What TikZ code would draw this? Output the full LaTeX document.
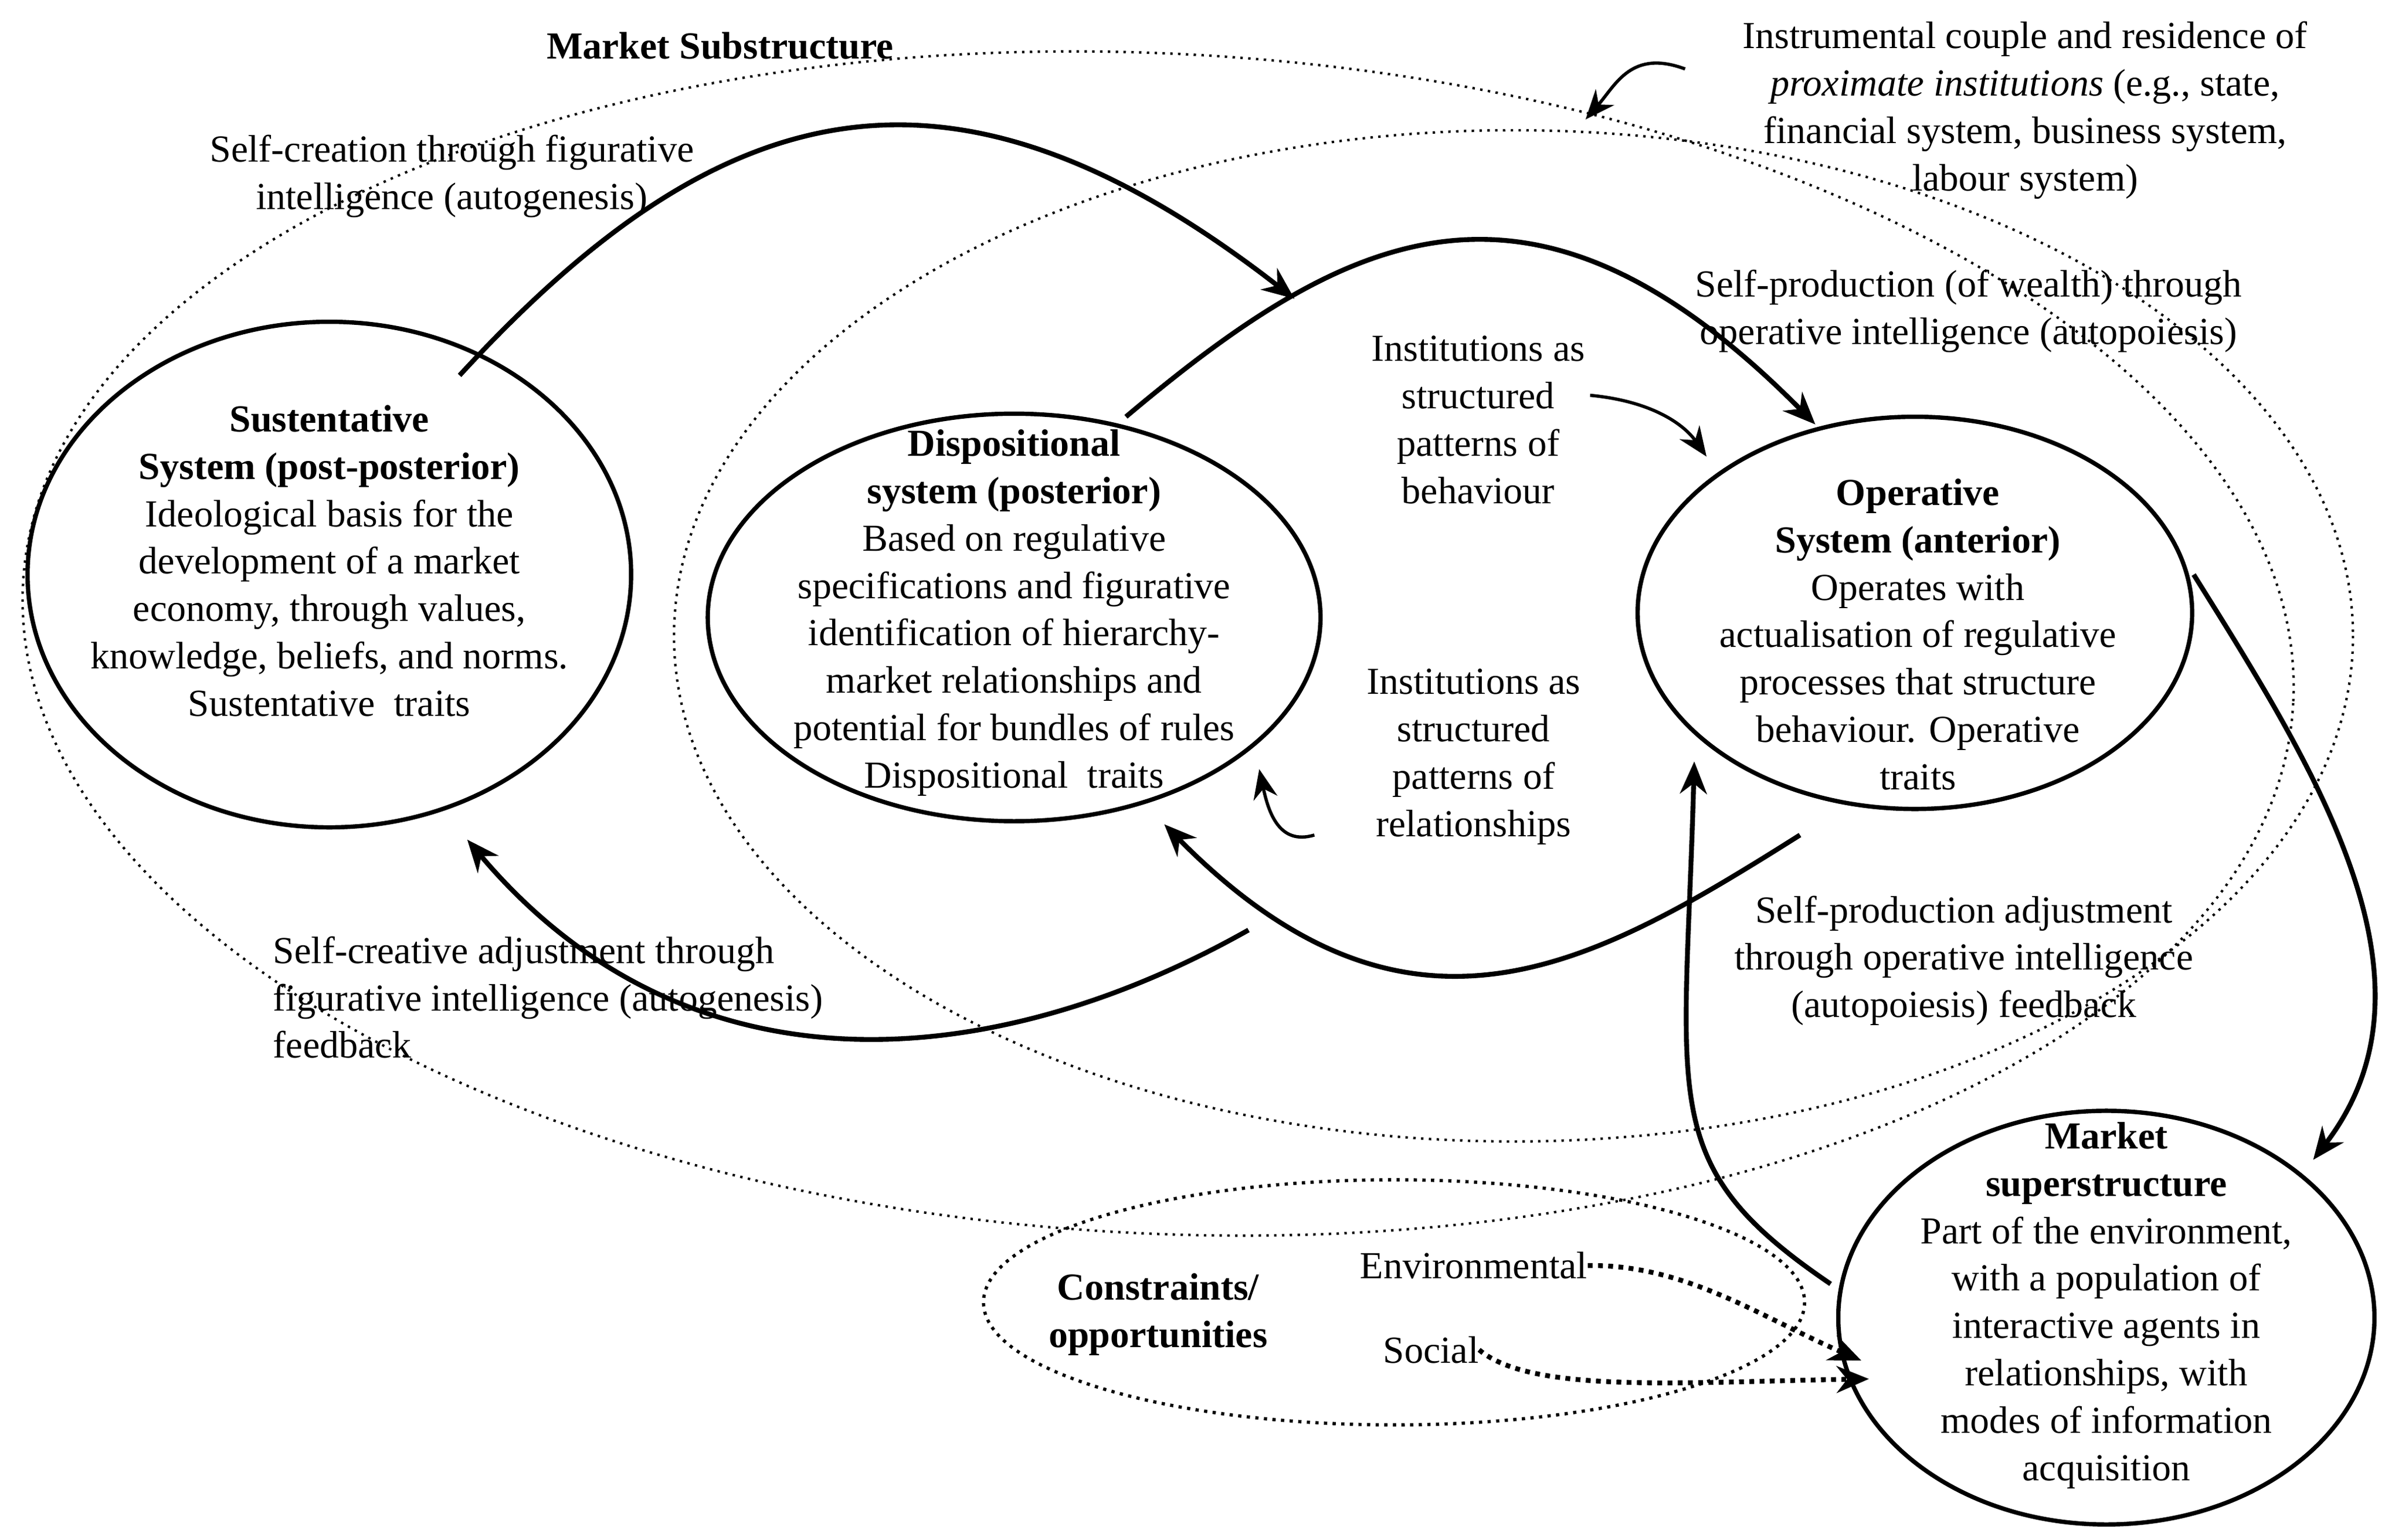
\documentclass[tikz,border=0pt]{standalone}
\usepackage{fontspec}
\setmainfont{Liberation Serif}
\usetikzlibrary{arrows.meta,positioning}
\begin{document}
\begin{tikzpicture}[x=0.02cm,y=-0.02cm,
    font=\fontsize{14.2}{17.6}\selectfont,
    txt/.style={align=center,inner sep=0pt},
    sys/.style={draw,line width=1.6pt},
    flow/.style={line width=1.8pt,-{Stealth[length=12pt,width=10pt]}},
    hint/.style={line width=1.2pt,-{Stealth[length=11pt,width=9pt]}},
    cons/.style={line width=1.8pt,dotted,-{Stealth[length=12pt,width=10pt]}}]
  \useasboundingbox (0,0) rectangle (1568,1005);
  % dotted boundaries
  \draw[dotted,line width=0.9pt,rotate around={-3:(756,420)}] (756,420) ellipse [x radius=742,y radius=385];
  \draw[dotted,line width=0.9pt] (988,415) ellipse [x radius=548,y radius=330];
  \draw[dotted,line width=1.2pt] (910,850) ellipse [x radius=268,y radius=80];
  % systems
  \draw[sys] (215,375) ellipse [x radius=197,y radius=165];
  \draw[sys] (662,403) ellipse [x radius=200,y radius=133];
  \draw[sys] (1250,400) ellipse [x radius=181,y radius=128];
  \draw[sys] (1375,860) ellipse [x radius=175,y radius=135];
  \node[txt] (sust) at (215,366) {\textbf{Sustentative}\\\textbf{System (post-posterior)}\\Ideological basis for the\\development of a market\\economy, through values,\\knowledge, beliefs, and norms.\\Sustentative\ \ traits};
  \node[txt] (disp) at (662,400) {\textbf{Dispositional}\\\textbf{system (posterior)}\\Based on regulative\\specifications and figurative\\identification of hierarchy-\\market relationships and\\potential for bundles of rules\\Dispositional\ \ traits};
  \node[txt] (oper) at (1252,414) {\textbf{Operative}\\\textbf{System (anterior)}\\Operates with\\actualisation of regulative\\processes that structure\\behaviour. Operative\\traits};
  \node[txt] (sup) at (1375,852) {\textbf{Market}\\\textbf{superstructure}\\Part of the environment,\\with a population of\\interactive agents in\\relationships, with\\modes of information\\acquisition};
  % labels
  \node[txt,font=\fontsize{14.2}{17.6}\selectfont\bfseries] (msub) at (470,30) {Market Substructure};
  \node[txt] (inst) at (1322,72) {Instrumental couple and residence of\\\textit{proximate institutions} (e.g., state,\\financial system, business system,\\labour system)};
  \node[txt] (screate) at (295,115) {Self-creation through figurative\\intelligence (autogenesis)};
  \node[txt] (sprod) at (1285,203) {Self-production (of wealth) through\\operative intelligence (autopoiesis)};
  \node[txt] (ibeh) at (965,274) {Institutions as\\structured\\patterns of\\behaviour};
  \node[txt] (irel) at (962,494) {Institutions as\\structured\\patterns of\\relationships};
  \node[txt,align=left,anchor=west] (screadj) at (178,651) {Self-creative adjustment through\\figurative intelligence (autogenesis)\\feedback};
  \node[txt] (sprodadj) at (1282,627) {Self-production adjustment\\through operative intelligence\\(autopoiesis) feedback};
  \node[txt,font=\fontsize{14.2}{17.6}\selectfont\bfseries] (co) at (756,858) {Constraints/\\opportunities};
  \node[txt] (env) at (962,826) {Environmental};
  \node[txt] (soc) at (934,881) {Social};
  % flows
  \coordinate (a1) at (300,245); \coordinate (a2) at (845,195);
  \draw[flow] (a1) .. controls (470,60) and (620,20) .. (a2);
  \coordinate (b1) at (735,272); \coordinate (b2) at (1185,277);
  \draw[flow] (b1) .. controls (880,150) and (1000,90) .. (b2);
  \coordinate (c1) at (1175,545); \coordinate (c2) at (760,538);
  \draw[flow] (c1) .. controls (1040,630) and (920,700) .. (c2);
  \coordinate (d1) at (815,607); \coordinate (d2) at (305,548);
  \draw[flow] (d1) .. controls (650,700) and (450,720) .. (d2);
  \coordinate (e1) at (1432,375); \coordinate (e2) at (1510,757);
  \draw[flow] (e1) .. controls (1510,500) and (1600,640) .. (e2);
  \coordinate (f1) at (1195,838); \coordinate (f2) at (1106,497);
  \draw[flow] (f1) .. controls (1080,760) and (1100,720) .. (f2);
  % hints
  \coordinate (g1) at (1038,258); \coordinate (g2) at (1114,298);
  \draw[hint] (g1) .. controls (1080,262) and (1100,278) .. (g2);
  \coordinate (h1) at (858,545); \coordinate (h2) at (822,502);
  \draw[hint] (h1) .. controls (835,552) and (828,530) .. (h2);
  \coordinate (k1) at (1100,45); \coordinate (k2) at (1035,78);
  \draw[hint] (k1) .. controls (1065,32) and (1055,55) .. (k2);
  % constraints
  \coordinate (s1) at (1215,888); \coordinate (s2) at (1220,900);
  \draw[cons] (env.east) .. controls (1100,825) and (1150,860) .. (s1);
  \draw[cons] (soc.east) .. controls (1000,910) and (1100,902) .. (s2);
\end{tikzpicture}
\end{document}
